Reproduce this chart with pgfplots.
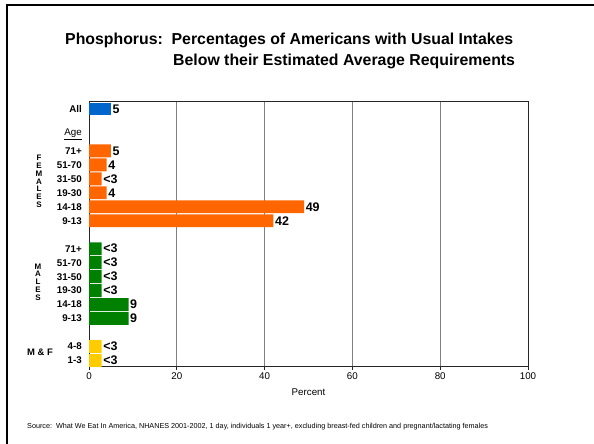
\documentclass[border=0pt]{standalone}
\usepackage{fontspec}
\setmainfont{Liberation Sans}
\usepackage{pgfplots}
\usepackage{pgfplotstable}
\pgfplotsset{compat=1.18}
\definecolor{cblue}{RGB}{0,102,204}
\definecolor{corange}{RGB}{255,102,0}
\definecolor{cgreen}{RGB}{0,128,0}
\definecolor{cyellow}{RGB}{255,204,0}

\pgfplotstableread{
pos val lab
18 5 5
}\allt
\pgfplotstableread{
pos val lab
15 5 5
14 4 4
13 2.9 {<3}
12 4 4
11 49 49
10 42 42
}\femt
\pgfplotstableread{
pos val lab
8 2.9 {<3}
7 2.9 {<3}
6 2.9 {<3}
5 2.9 {<3}
4 9 9
3 9 9
}\malt
\pgfplotstableread{
pos val lab
1 2.9 {<3}
0 2.9 {<3}
}\mft

\begin{document}
\begin{tikzpicture}
\path[use as bounding box] (0,0) rectangle (594bp,444bp);
\draw[line width=2bp] (7bp,0) -- (7bp,439bp) -- (594bp,439bp);
\node[anchor=base west, inner sep=0pt, font=\fontsize{15.9}{17}\selectfont\bfseries] at (65bp,399bp) {Phosphorus:\ \ Percentages of Americans with Usual Intakes};
\node[anchor=base west, inner sep=0pt, font=\fontsize{15.9}{17}\selectfont\bfseries] at (173bp,378.3bp) {Below their Estimated Average Requirements};
\begin{axis}[
  at={(89bp,77.5bp)}, anchor=south west,
  width=439bp, height=265.5bp, scale only axis,
  xbar, bar width=0.92, bar shift=0pt,
  xmin=0, xmax=100, ymin=-0.43, ymax=18.57,
  xtick={0,20,40,60,80,100},
  xticklabels={0,20,40,60,80,100},
  xmajorgrids, grid style={black!50, line width=0.9pt},
  axis line style={black!85, line width=0.9pt},
  xtick pos=lower, tick align=outside,
  major tick length=3bp,
  x tick style={black!85, line width=0.9pt},
  ytick={0,1,3,4,5,6,7,8,10,11,12,13,14,15,16.2,18},
  yticklabels={1-3,4-8,9-13,14-18,19-30,31-50,51-70,71+,9-13,14-18,19-30,31-50,51-70,71+,{\mdseries\underline{Age}},All},
  ytick style={draw=none},
  yticklabel style={font=\fontsize{9.8}{10}\selectfont\bfseries, inner sep=1bp, xshift=-3bp},
  xticklabel style={font=\fontsize{9.8}{10}\selectfont, inner sep=1bp, yshift=-2bp},
  xlabel={Percent},
  xlabel style={font=\fontsize{9.8}{10}\selectfont, yshift=-5bp},
  point meta=explicit symbolic,
  nodes near coords={\pgfplotspointmeta},
  nodes near coords style={font=\fontsize{12.5}{13}\selectfont\bfseries, anchor=west, inner sep=1.5bp},
  clip=false,
]
\addplot[fill=cblue, draw=none] table[x=val, y=pos, meta=lab] {\allt};
\addplot[fill=corange, draw=none] table[x=val, y=pos, meta=lab] {\femt};
\addplot[fill=cgreen, draw=none] table[x=val, y=pos, meta=lab] {\malt};
\addplot[fill=cyellow, draw=none] table[x=val, y=pos, meta=lab] {\mft};
\end{axis}
\node[font=\fontsize{8}{7.8}\selectfont\bfseries, align=center] at (39bp,262.5bp) {F\\E\\M\\A\\L\\E\\S};
\node[font=\fontsize{8}{7.8}\selectfont\bfseries, align=center] at (38bp,162bp) {M\\A\\L\\E\\S};
\node[font=\fontsize{9.5}{10}\selectfont\bfseries] at (40bp,92bp) {M \& F};
\node[anchor=base west, inner sep=0pt, font=\fontsize{7.25}{8}\selectfont] at (27bp,16bp) {Source:\ \ What We Eat In America, NHANES 2001-2002, 1 day, individuals 1 year+, excluding breast-fed children and pregnant/lactating females};
\end{tikzpicture}
\end{document}
